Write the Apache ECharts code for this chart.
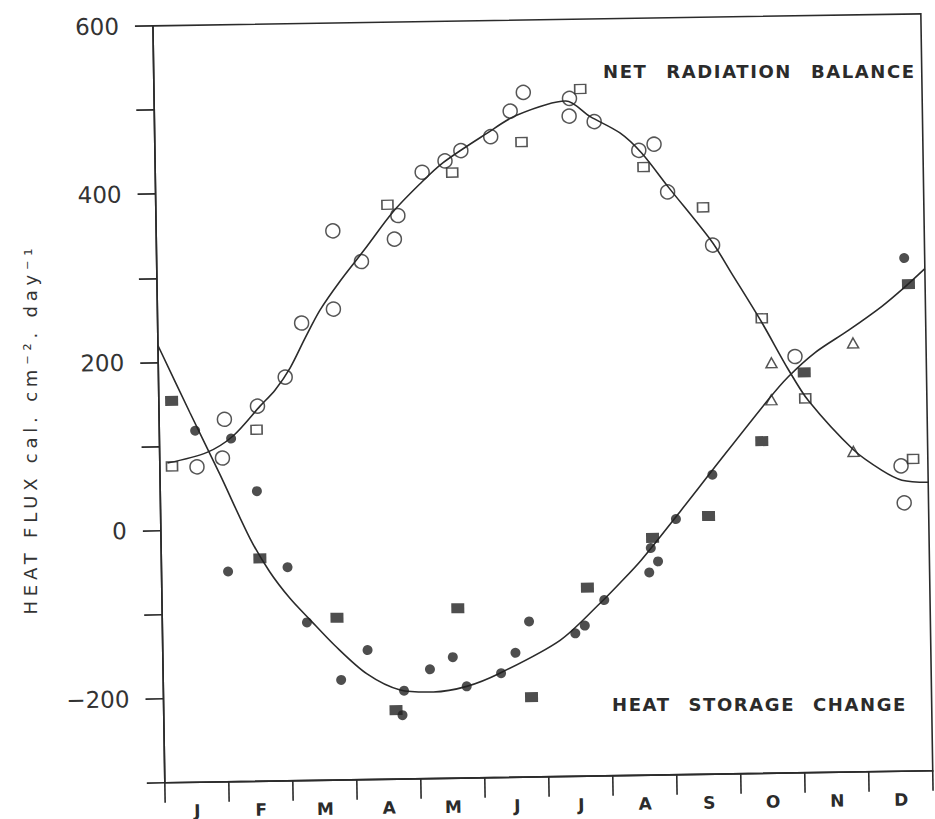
<!DOCTYPE html>
<html>
<head>
<meta charset="utf-8">
<script src="https://cdn.jsdelivr.net/npm/echarts@6/dist/echarts.min.js"></script>
<style>
  html, body { margin: 0; padding: 0; background: #fff; overflow: hidden; }
  #chart { width: 935px; height: 819px; transform: rotate(-0.9deg); transform-origin: 467px 409.5px; }
</style>
</head>
<body>
<div id="chart"></div>
<script>
// ---- data (x = month position 0..12, y = heat flux) ----
const months = ['J','F','M','A','M','J','J','A','S','O','N','D'];
const yLabelValues = [600, 400, 200, 0, -200];

const netRadCircles = [
  [0.58,75],[1.02,131],[0.98,85],[1.54,146],[1.98,180],[2.25,244],[2.75,260],[2.76,353],
  [3.20,316],[3.78,370],[3.72,342],[4.17,421],[4.53,434],[4.78,446],[5.25,462],[5.56,492],
  [5.77,514],[6.49,506],[6.48,485],[6.87,478],[7.56,443],[7.80,450],[8.00,393],[8.69,329],
  [9.95,195],[11.58,63],[11.62,19]
];
const netRadSquares = [
  [0.19,76],[1.52,118],[3.62,383],[4.64,420],[5.73,455],[6.66,517],[7.63,423],[8.55,374],
  [9.44,241],[10.10,145],[11.77,71]
];
const triangles = [[9.58,188],[9.57,144],[10.86,210],[10.84,81]];
const heatCircles = [
  [0.56,118],[1.12,108],[1.51,45],[1.04,-50],[1.97,-46],[2.26,-112],[2.78,-181],[3.20,-146],
  [3.76,-195],[3.73,-224],[4.17,-170],[4.53,-156],[4.74,-191],[5.28,-176],[5.51,-152],
  [5.73,-115],[6.45,-130],[6.60,-121],[6.91,-91],[7.62,-59],[7.76,-46],[7.65,-30],[8.05,4],
  [8.63,56],[11.68,310]
];
const heatSquares = [
  [0.20,154],[1.54,-35],[2.73,-107],[3.63,-218],[4.62,-98],[5.75,-205],[6.65,-76],[7.68,-18],
  [8.56,7],[9.41,95],[10.09,176],[11.74,279]
];
const netRadCurve = [
  [0.12,80],[0.74,92],[1.15,111],[1.58,146],[1.82,165],[2.06,191],[2.30,226],[2.54,259],
  [2.86,293],[3.26,331],[3.70,374],[4.13,407],[4.50,432],[5.19,466],[5.66,487],[6.43,503],
  [6.81,484],[7.27,464],[7.60,440],[8.01,399],[8.68,333],[8.98,295],[9.44,236],[9.84,180],
  [10.15,142],[10.84,83],[11.28,58],[11.59,46],[12,43]
];
const heatStorageCurve = [
  [0,220],[0.48,140],[0.94,65],[1.39,-11],[1.69,-51],[2.00,-83],[2.31,-109],[2.69,-140],
  [3.18,-174],[3.70,-194],[4.22,-197],[4.74,-191],[5.26,-176],[6.21,-138],[6.84,-95],
  [7.16,-71],[7.50,-44],[8.14,15],[8.67,65],[9.52,144],[9.84,171],[10.26,199],[10.79,225],
  [11.32,253],[11.69,276],[12,297]
];

const yAxisTitle = 'HEAT FLUX cal. cm\u207B\u00B2. day\u207B\u00B9';
const labelTop = 'NET RADIATION BALANCE';
const labelBottom = 'HEAT STORAGE CHANGE';

// ---- chart ----
const ink = '#2b2b2b';
const chart = echarts.init(document.getElementById('chart'), null, { renderer: 'svg' });

const openStyle = { color: 'rgba(255,255,255,0)', borderColor: ink, borderWidth: 1.5 };
const fillStyle = { color: '#222', borderWidth: 0 };

const option = {
  animation: false,
  backgroundColor: '#fff',
  grid: { left: 159, right: 8, top: 21, bottom: 41, show: true, borderColor: ink, borderWidth: 1.6, backgroundColor: 'rgba(0,0,0,0)' },
  xAxis: [
    { type: 'value', min: 0, max: 12, show: false },
    {
      type: 'category', data: months, boundaryGap: true, position: 'bottom',
      axisLine: { show: true, lineStyle: { color: ink, width: 1.6 } },
      axisTick: { show: true, length: 20, inside: false, interval: 0, lineStyle: { color: ink, width: 1.6 } },
      axisLabel: { margin: 20, fontSize: 17, fontWeight: 'bold', fontFamily: 'DejaVu Sans', color: ink, interval: 0 },
      splitLine: { show: false }
    }
  ],
  yAxis: {
    type: 'value', min: -300, max: 600, interval: 100,
    axisLine: { show: true, lineStyle: { color: ink, width: 1.6 } },
    axisTick: { show: true, length: 18, inside: false, lineStyle: { color: ink, width: 1.6 } },
    axisLabel: {
      margin: 34, fontSize: 23, fontFamily: 'DejaVu Sans', color: '#333',
      formatter: v => yLabelValues.includes(v) ? (v < 0 ? '\u2212' + Math.abs(v) : String(v)) : ''
    },
    splitLine: { show: false }
  },
  graphic: [
    { type: 'text', x: 30.7, y: 422.2, rotation: Math.PI / 2 - 0.0157,
      style: { text: yAxisTitle, fontSize: 18, fontFamily: 'DejaVu Sans', fill: '#333', align: 'center', verticalAlign: 'middle' } },
    { type: 'text', x: 608.3, y: 73.6, rotation: -0.0157,
      style: { text: labelTop, fontSize: 18, fontWeight: 'bold', fontFamily: 'DejaVu Sans', fill: ink, align: 'left', verticalAlign: 'middle' } },
    { type: 'text', x: 607.4, y: 706.3, rotation: -0.0157,
      style: { text: labelBottom, fontSize: 18, fontWeight: 'bold', fontFamily: 'DejaVu Sans', fill: ink, align: 'left', verticalAlign: 'middle' } }
  ],
  series: [
    { type: 'line', xAxisIndex: 0, data: netRadCurve, smooth: 0.3, symbol: 'none', lineStyle: { color: ink, width: 1.6 }, z: 2 },
    { type: 'line', xAxisIndex: 0, data: heatStorageCurve, smooth: 0.3, symbol: 'none', lineStyle: { color: ink, width: 1.6 }, z: 2 },
    { type: 'scatter', xAxisIndex: 0, data: netRadCircles, symbol: 'circle', symbolSize: 14, itemStyle: openStyle, z: 3 },
    { type: 'scatter', xAxisIndex: 0, data: netRadSquares, symbol: 'rect', symbolSize: [11, 9], itemStyle: openStyle, z: 3 },
    { type: 'scatter', xAxisIndex: 0, data: triangles, symbol: 'triangle', symbolSize: [11, 10], itemStyle: openStyle, z: 3 },
    { type: 'scatter', xAxisIndex: 0, data: heatCircles, symbol: 'circle', symbolSize: 10, itemStyle: fillStyle, z: 3 },
    { type: 'scatter', xAxisIndex: 0, data: heatSquares, symbol: 'rect', symbolSize: [13, 10], itemStyle: fillStyle, z: 3 }
  ]
};
chart.setOption(option);

function applySpacing() {
  document.querySelectorAll('#chart svg text').forEach(t => {
    const s = t.textContent || '';
    if (s.indexOf('HEAT FLUX') === 0) {
      t.style.letterSpacing = '4.8px';
    } else if (s === labelTop) {
      t.style.letterSpacing = '1.6px';
      t.style.wordSpacing = '11px';
    } else if (s === labelBottom) {
      t.style.letterSpacing = '1.6px';
      t.style.wordSpacing = '10px';
    }
  });
}
applySpacing();
chart.on('finished', applySpacing);
</script>
</body>
</html>
